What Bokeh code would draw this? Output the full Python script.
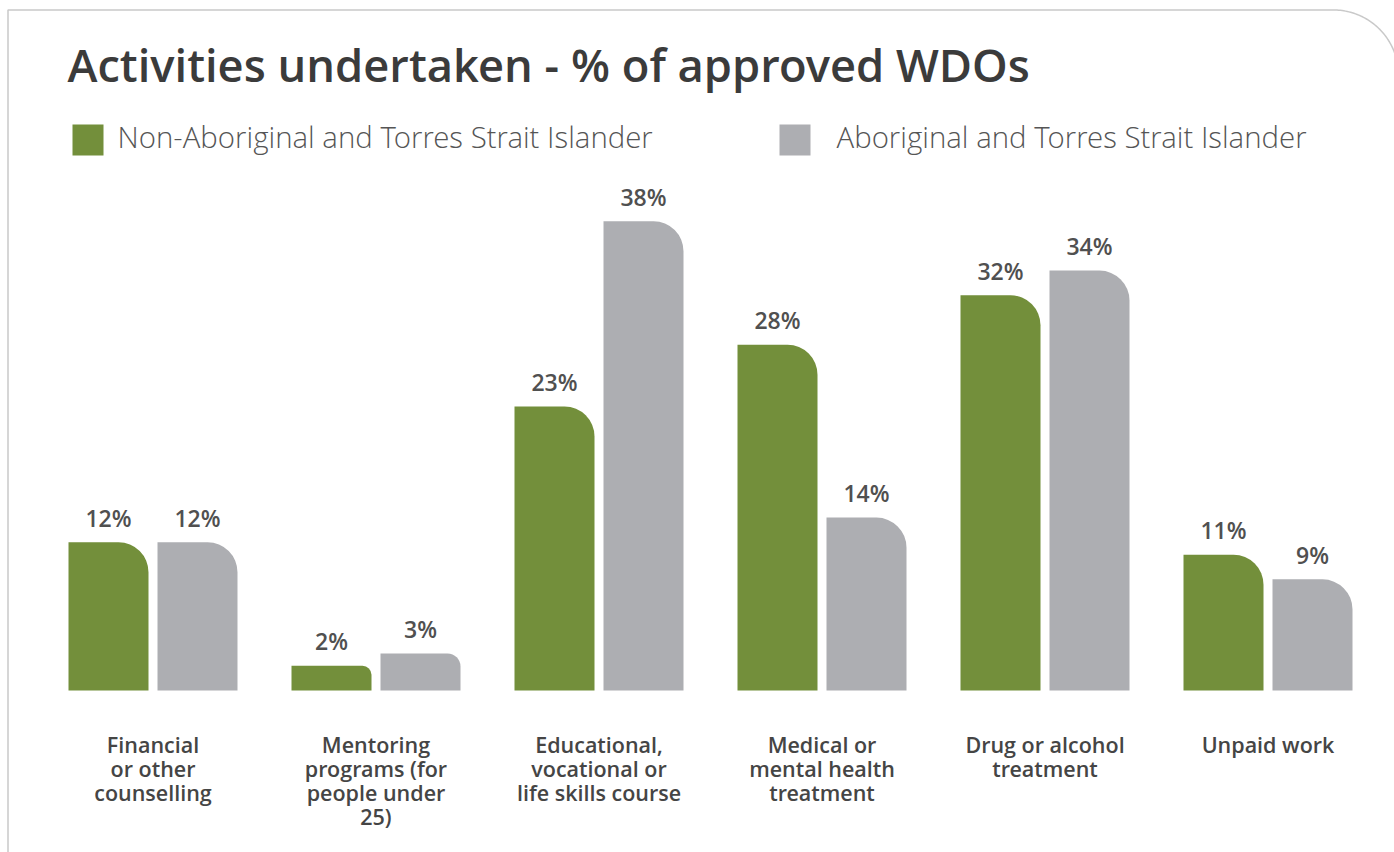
import numpy as np
from bokeh.plotting import figure
from bokeh.models import Range1d
from bokeh.core.properties import value
from bokeh.embed import file_html
from bokeh.resources import INLINE

# ---------------- data ----------------
title_text = "Activities undertaken - % of approved WDOs"
categories = [
    "Financial\nor other\ncounselling",
    "Mentoring\nprograms (for\npeople under\n25)",
    "Educational,\nvocational or\nlife skills course",
    "Medical or\nmental health\ntreatment",
    "Drug or alcohol\ntreatment",
    "Unpaid work",
]
series_names = [
    "Non-Aboriginal and Torres Strait Islander",
    "Aboriginal and Torres Strait Islander",
]
non_indigenous = [12, 2, 23, 28, 32, 11]
indigenous = [12, 3, 38, 14, 34, 9]

# ---------------- styling / layout ----------------
series_values = [non_indigenous, indigenous]
series_colors = ["#738f3b", "#adaeb2"]
W, H = 1394, 852
BASE_Y = 690        # y of the zero line
PX_PER_PCT = 12.35  # vertical scale
PITCH = 223         # px between category centres
X0 = 152.5          # x of first category centre
BL_FIX = 0.42       # empirical baseline correction (fraction of font size)


def dx(px):
    return (px - X0) / PITCH


def dy(py):
    return (BASE_Y - py) / PX_PER_PCT


def base(py, size):
    # data y at which text of given size gets its baseline at screen y = py
    return dy(py - BL_FIX * size)


p = figure(
    width=W, height=H,
    x_range=Range1d(dx(0), dx(W)),
    y_range=Range1d(dy(H), dy(0)),
    x_axis_type=None, y_axis_type=None,
    output_backend="svg", toolbar_location=None,
    min_border=0,
)
p.grid.visible = False
p.outline_line_color = None
p.background_fill_color = "white"
p.border_fill_color = "white"

SEMI = value("Open Sans SemiBold")
LIGHT = value("Open Sans Light")

# card border (left edge, top edge with rounded top-right corner)
t = np.linspace(np.pi / 2, 0, 60)
bx = [7.5, 7.5] + list(1333 + 65 * np.cos(t))
by = [870, 9.5] + list(74.5 - 65 * np.sin(t))
p.line([dx(v) for v in bx], [dy(v) for v in by], line_color="#c9c9c9", line_width=1.5)

# title
TS = 45.3
p.text(x=[dx(67)], y=[base(83, TS)], text=[title_text], text_font=SEMI,
       text_font_size=f"{TS}px", text_color="#3b3b3b", text_align="left", text_baseline="alphabetic")

# legend
LS = 29.4
leg_sq_x = [87.5, 794.5]
leg_tx_x = [117, 836]
for s in range(2):
    p.scatter(x=[dx(leg_sq_x[s])], y=[dy(139.5)], marker="square", size=31,
              fill_color=series_colors[s], line_color=None)
    p.text(x=[dx(leg_tx_x[s])], y=[base(149, LS)], text=[series_names[s]], text_font=LIGHT,
           text_font_size=f"{LS}px", text_color="#555555", text_align="left", text_baseline="alphabetic")

# bars + value labels
VS = 23
offsets = [-44.5 / PITCH, 44.5 / PITCH]
bar_w = 80 / PITCH
idx = np.arange(len(categories))
for s, vals in enumerate(series_values):
    for i, v in enumerate(vals):
        hpx = v * PX_PER_PCT
        r = int(round(min(30, 0.36 * hpx)))
        p.vbar(x=[i + offsets[s]], top=[v], bottom=0, width=bar_w,
               fill_color=series_colors[s], line_color=None, border_radius=(0, r, 0, 0))
    p.text(x=idx + offsets[s], y=[v + (15 + BL_FIX * VS) / PX_PER_PCT for v in vals],
           text=[f"{v}%" for v in vals], text_font=SEMI,
           text_font_size=f"{VS}px", text_color="#505050", text_align="center", text_baseline="alphabetic")

# category labels (one row per line)
CS = 21.5
LINE = 24 / PX_PER_PCT
lx, ly, lt = [], [], []
for i, c in enumerate(categories):
    for k, line in enumerate(c.split("\n")):
        lx.append(i)
        ly.append(base(753, CS) - k * LINE)
        lt.append(line)
p.text(x=lx, y=ly, text=lt, text_font=SEMI, text_font_size=f"{CS}px",
       text_color="#454545", text_align="center", text_baseline="alphabetic")

open("out.html", "w").write(file_html(p, INLINE))
